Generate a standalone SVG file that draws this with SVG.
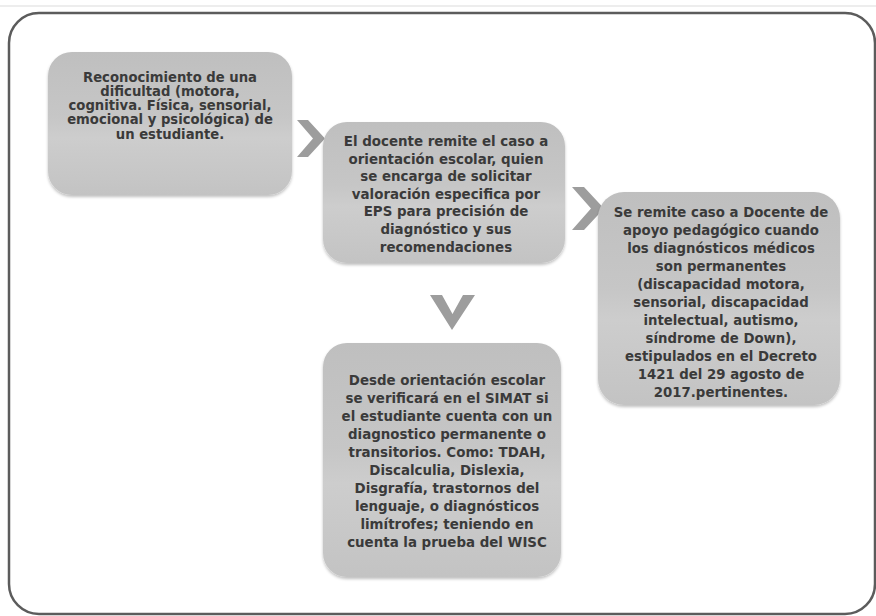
<svg xmlns="http://www.w3.org/2000/svg" width="876" height="616" viewBox="0 0 876 616">
<defs>
<linearGradient id="boxg" x1="0" y1="0" x2="0" y2="1">
<stop offset="0" stop-color="#bfbfbf"/>
<stop offset="0.45" stop-color="#c6c6c6"/>
<stop offset="0.6" stop-color="#cdcdcd"/>
<stop offset="1" stop-color="#c3c3c3"/>
</linearGradient>
<filter id="sh" x="-10%" y="-10%" width="120%" height="120%">
<feGaussianBlur in="SourceAlpha" stdDeviation="1.5"/>
<feOffset dx="0" dy="1.5"/>
<feComponentTransfer><feFuncA type="linear" slope="0.25"/></feComponentTransfer>
<feMerge><feMergeNode/><feMergeNode in="SourceGraphic"/></feMerge>
</filter>
</defs>
<style>
.box{fill:url(#boxg);filter:url(#sh)}
.t{font-family:"DejaVu Sans",Verdana,sans-serif;font-weight:bold;fill:#3a3a3a;text-anchor:middle}
.t1{font-size:13.2px}
.t2{font-size:13.4px}
.t3{font-size:13.3px}
.t4{font-size:13.4px}
.chev{fill:#9d9d9d}
</style>
<rect width="876" height="616" fill="#ffffff"/>
<line x1="0" y1="6" x2="876" y2="6" stroke="#dcdcdc" stroke-width="1.2"/>
<rect x="9" y="13" width="866" height="601" rx="30" ry="30" fill="#ffffff" stroke="#5c5c5c" stroke-width="2.5"/>

<g id="connectors">
<polygon class="chev" points="297,120 308,120 325,138.5 308,157 297,157 313,138.5"/>
<polygon class="chev" points="572,187 584,187 604,208.5 584,230 572,230 591,208.5"/>
<polygon class="chev" points="430,295 442,295 452.5,314 463,295 475,295 452,330"/>
</g>

<g id="node1">
<rect class="box" x="48" y="52" width="244" height="143" rx="24" ry="24"/>
<text class="t t1"><tspan x="170" y="81.5">Reconocimiento de una</tspan><tspan x="170" y="96">dificultad (motora,</tspan><tspan x="170" y="110">cognitiva. Física, sensorial,</tspan><tspan x="170" y="124">emocional y psicológica) de</tspan><tspan x="170" y="138.5">un estudiante.</tspan></text>
</g>

<g id="node2">
<rect class="box" x="323" y="122" width="242" height="141" rx="24" ry="24"/>
<text class="t t2"><tspan x="446" y="146">El docente remite el caso a</tspan><tspan x="446" y="163.5">orientación escolar, quien</tspan><tspan x="446" y="181">se encarga de solicitar</tspan><tspan x="446" y="198.5">valoración especifica por</tspan><tspan x="446" y="216">EPS para precisión de</tspan><tspan x="446" y="233.5">diagnóstico y sus</tspan><tspan x="446" y="251.5">recomendaciones</tspan></text>
</g>

<g id="node3">
<rect class="box" x="598" y="192" width="242" height="213" rx="26" ry="26"/>
<text class="t t3"><tspan x="721" y="217">Se remite caso a Docente de</tspan><tspan x="721" y="235">apoyo pedagógico cuando</tspan><tspan x="721" y="253">los diagnósticos médicos</tspan><tspan x="721" y="271">son permanentes</tspan><tspan x="721" y="289">(discapacidad motora,</tspan><tspan x="721" y="307">sensorial, discapacidad</tspan><tspan x="721" y="325">intelectual, autismo,</tspan><tspan x="721" y="343">síndrome de Down),</tspan><tspan x="721" y="361">estipulados en el Decreto</tspan><tspan x="721" y="379">1421 del 29 agosto de</tspan><tspan x="721" y="397">2017.pertinentes.</tspan></text>
</g>

<g id="node4">
<rect class="box" x="323" y="343" width="238" height="234" rx="24" ry="24"/>
<text class="t t4"><tspan x="447" y="385">Desde orientación escolar</tspan><tspan x="447" y="403">se verificará en el SIMAT si</tspan><tspan x="447" y="421">el estudiante cuenta con un</tspan><tspan x="447" y="439">diagnostico permanente o</tspan><tspan x="447" y="457">transitorios. Como: TDAH,</tspan><tspan x="447" y="475">Discalculia, Dislexia,</tspan><tspan x="447" y="493">Disgrafía, trastornos del</tspan><tspan x="447" y="511">lenguaje, o diagnósticos</tspan><tspan x="447" y="529">limítrofes; teniendo en</tspan><tspan x="447" y="547">cuenta la prueba del WISC</tspan></text>
</g>
</svg>
